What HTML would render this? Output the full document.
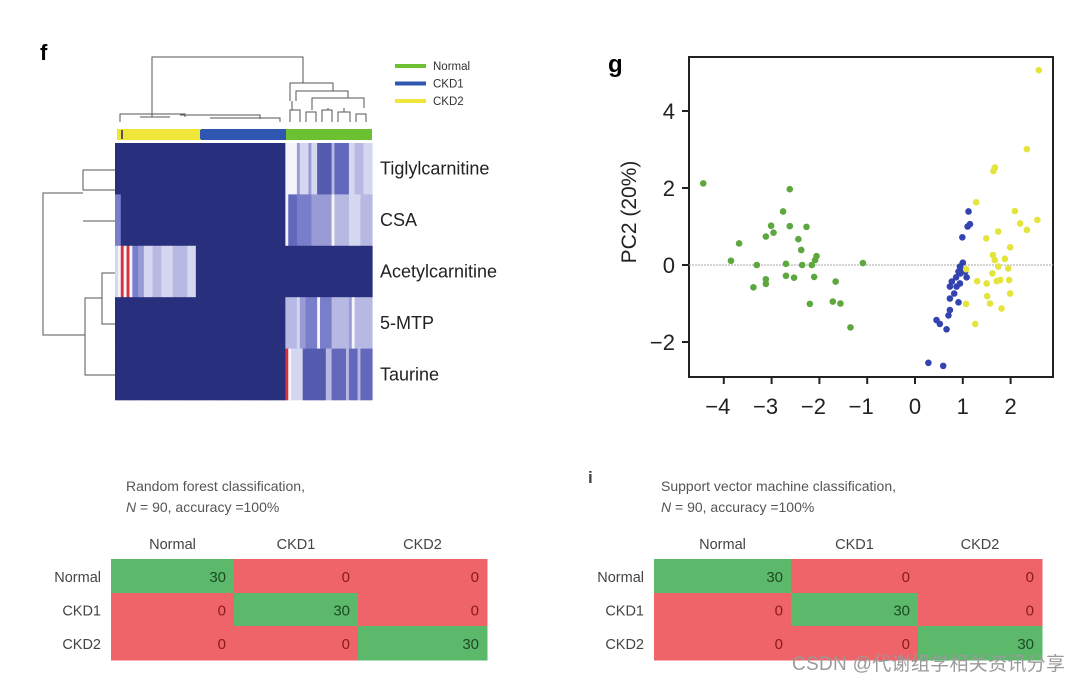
<!DOCTYPE html>
<html><head><meta charset="utf-8">
<style>
html,body{margin:0;padding:0;background:#fff;}
body{width:1080px;height:683px;overflow:hidden;position:relative;font-family:"Liberation Sans","Noto Sans CJK SC",sans-serif;}
svg{position:absolute;left:0;top:0;}
</style></head>
<body>
<svg id="fig" width="1080" height="683" viewBox="0 0 1080 683" xmlns="http://www.w3.org/2000/svg">
  <g id="heat"></g>
  <g id="scat"></g>
  <g id="tabs"></g>
  <text x="792" y="670" font-size="19" fill="#9a9a9a" textLength="273" font-family="Liberation Sans, Noto Sans CJK SC, sans-serif">CSDN @代谢组学相关资讯分享</text>
</svg>
<script>
// ---------- data: heatmap ----------
const heatRows = ["Tiglylcarnitine","CSA","Acetylcarnitine","5-MTP","Taurine"];
const groupNames = ["Normal","CKD1","CKD2"];
const groupColors = ["#6cc133","#2f56b0","#f0e63a"];
// per-row intensity codes: 29 CKD2 cols, 30 CKD1 cols, 30 Normal cols (0=navy ... 9=white, r=red)
const rowCodes = [
  "00000000000000000000000000000"+"000000000000000000000000000000"+"999968886883333374444488777888",
  "55000000000000000000000000000"+"000000000000000000000000000000"+"944455555666666697777788887777",
  "89r9r95566888777888877777888000"+"0000000000000000000000000000",
  "00000000000000000000000000000"+"000000000000000000000000000000"+"777786655559555577777769777777",
  "00000000000000000000000000000"+"000000000000000000000000000000"+"r98888333333337744444744474444"
];
// ---------- data: PCA ----------
const greenX = [-4.43,-2.62,-2.76,-3.01,-2.96,-3.12,-2.62,-2.27,-2.44,-2.38,-3.68,-3.85,-3.31,-2.70,-2.36,-2.16,-2.09,-2.06,-2.70,-2.53,-2.11,-3.12,-3.12,-3.38,-1.66,-2.20,-1.72,-1.56,-1.35,-1.09];
const greenY = [2.12,1.97,1.39,1.02,0.84,0.74,1.01,0.99,0.67,0.39,0.56,0.11,0,0.03,0,0,0.13,0.23,-0.28,-0.33,-0.31,-0.37,-0.49,-0.58,-0.43,-1.01,-0.95,-1.0,-1.62,0.05];
const blueX = [1.12,1.15,1.10,0.99,1.0,0.94,0.91,1.05,1.08,0.86,0.77,0.73,0.87,0.82,0.73,0.91,0.73,0.70,0.45,0.52,0.66,0.28,0.59,1.01,0.94,0.95];
const blueY = [1.39,1.06,1.0,0.72,0.06,-0.04,-0.17,-0.17,-0.32,-0.32,-0.43,-0.56,-0.56,-0.74,-0.87,-0.97,-1.17,-1.31,-1.43,-1.53,-1.67,-2.54,-2.62,-0.13,-0.48,-0.22];
const yellowX = [2.59,2.34,1.67,1.64,1.28,2.09,2.56,2.20,2.34,1.74,1.49,1.99,1.63,1.88,1.67,1.74,1.95,1.07,1.62,1.30,1.71,1.97,1.99,1.51,1.57,1.81,1.07,1.26,1.50,1.78];
const yellowY = [5.06,3.01,2.53,2.44,1.63,1.40,1.17,1.08,0.91,0.87,0.69,0.46,0.26,0.16,0.13,-0.04,-0.09,-0.11,-0.22,-0.42,-0.42,-0.39,-0.74,-0.81,-1.0,-1.13,-1.01,-1.53,-0.48,-0.39];
const xTicks = [-4,-3,-2,-1,0,1,2];
const yTicks = [-2,0,2,4];
// ---------- data: confusion matrices ----------
const classes = ["Normal","CKD1","CKD2"];
const rfMatrix = [[30,0,0],[0,30,0],[0,0,30]];
const svmMatrix = [[30,0,0],[0,30,0],[0,0,30]];

const NS="http://www.w3.org/2000/svg";
function mk(tag, attrs, parent, text){
  const e=document.createElementNS(NS,tag);
  for(const k in attrs) e.setAttribute(k,attrs[k]);
  if(text!==undefined) e.textContent=text;
  parent.appendChild(e); return e;
}
function lerp(a,b,t){return a+(b-a)*t;}
function heatColor(c){
  if(c==='r') return "#d9303a";
  const v=parseInt(c)/9;
  const s0=[40,48,126], s1=[106,111,196], s2=[244,244,251];
  let a,b,t;
  if(v<0.5){a=s0;b=s1;t=v/0.5;} else {a=s1;b=s2;t=(v-0.5)/0.5;}
  return "rgb("+[0,1,2].map(i=>Math.round(lerp(a[i],b[i],t))).join(",")+")";
}

// ---------- heatmap ----------
const H=document.getElementById('heat');
const hx0=115,hx1=372,hy0=143,hy1=400;
const nCols=89, cw=(hx1-hx0)/nCols, rh=(hy1-hy0)/heatRows.length;
mk('text',{x:40,y:60,'font-size':22,'font-weight':'bold'},H,'f');
heatRows.forEach((name,r)=>{
  const code=rowCodes[r];
  for(let c=0;c<nCols;c++){
    const ch=code[c]||'0';
    const rect=mk('rect',{x:(hx0+c*cw).toFixed(2),y:(hy0+r*rh).toFixed(2),width:(cw+0.6).toFixed(2),height:(rh+0.3).toFixed(2),fill:heatColor(ch)},H);
    
    
  }
  const t=mk('text',{x:380,y:hy0+r*rh+rh/2+6,'font-size':18,fill:'#222'},H,name);
  
  
});
// group color bar
const barSeg=[[117,201,2],[201,286,1],[286,372,0]];
barSeg.forEach(s=>{
  const b=mk('rect',{x:s[0],y:129,width:s[1]-s[0],height:11,fill:groupColors[s[2]]},H);
  
  
});
mk('rect',{x:121,y:130,width:2,height:9,fill:'#555'},H);
mk('rect',{x:200,y:130,width:3,height:9,fill:'#2f56b0'},H);
// legend
groupNames.forEach((g,i)=>{
  const y=66+i*17.5;
  const l=mk('line',{x1:395,x2:426,y1:y,y2:y,stroke:groupColors[i],'stroke-width':4},H);
  
  
  const t=mk('text',{x:433,y:y+4,'font-size':11.5,fill:'#333'},H,g);
  
  
});
// dendrograms (decorative)
const dg=mk('g',{stroke:'#555','stroke-width':1,fill:'none'},H);


const dpaths=[
 "M152,117 V57 H303 V83",
 "M290,101 V83 H333 V91",
 "M296,101 V91 H348 V98",
 "M312,110 V98 H364 V108",
 "M120,122 V114 H185 V117",
 "M140,117 H170 M180,115 H260 V119 M210,118 H280 V122",
 "M290,122 V110 H300 V122 M306,122 V112 H316 V122 M322,122 V110 H332 V122 M338,122 V112 H350 V122 M356,122 V114 H366 V122",
 "M292,101 V110 M328,108 V110 M344,108 V112",
 "M115,190 H83 V170 H115 M83,221 H115",
 "M115,273 H102 V324 H115 M102,298 H85 V375 H115",
 "M83,193 H43 V335 H85"
];
dpaths.forEach(d=>mk('path',{d:d},dg));

// ---------- PCA scatter ----------
const S=document.getElementById('scat');
const px0=689,px1=1053,py0=57,py1=377;
const sx=v=>915+v*47.8, sy=v=>265-v*38.5;
mk('text',{x:608,y:72,'font-size':24,'font-weight':'bold'},S,'g');
const box=mk('rect',{x:px0,y:py0,width:px1-px0,height:py1-py0,fill:'none',stroke:'#222','stroke-width':2},S);


const zl=mk('line',{x1:px0,x2:px1,y1:sy(0),y2:sy(0),stroke:'#aaa','stroke-width':1,'stroke-dasharray':'2,1'},S);


xTicks.forEach(v=>{
  mk('line',{x1:sx(v),x2:sx(v),y1:py1,y2:py1+7,stroke:'#222','stroke-width':2},S);
  const t=mk('text',{x:sx(v)-(v<0?6:0),y:py1+37,'font-size':22,'text-anchor':'middle',fill:'#222'},S,v<0?'\u2212'+Math.abs(v):String(v));
  
  
});
yTicks.forEach(v=>{
  mk('line',{x1:px0-7,x2:px0,y1:sy(v),y2:sy(v),stroke:'#222','stroke-width':2},S);
  const t=mk('text',{x:px0-14,y:sy(v)+8,'font-size':22,'text-anchor':'end',fill:'#222'},S,v<0?'\u2212'+Math.abs(v):String(v));
  
  
});
const yl=mk('text',{x:0,y:0,'font-size':21,'text-anchor':'middle',fill:'#222',transform:'translate(636,212) rotate(-90)'},S,'PC2 (20%)');


function plotSeries(xs,ys,col,name){
  xs.forEach((x,i)=>{
    const c=mk('circle',{cx:sx(x),cy:sy(ys[i]),r:3.3,fill:col},S);
    
    
  });
}
plotSeries(greenX,greenY,'#5ca83e','normal');
plotSeries(blueX,blueY,'#3343b0','ckd1');
plotSeries(yellowX,yellowY,'#e4e43c','ckd2');

// ---------- confusion matrices ----------
const T=document.getElementById('tabs');
function drawMatrix(m,x0,colEdges,title,label,key){
  const g=mk('g',{},T);
  
  
  if(label){mk('text',{x:588,y:483,'font-size':17,'font-weight':'bold',fill:'#444'},g,label);}
  const t1=mk('text',{x:x0,y:491,'font-size':14,fill:'#555'},g,title);
  
  
  const t2=mk('text',{x:x0,y:512,'font-size':14,fill:'#555'},g);
  mk('tspan',{'font-style':'italic'},t2,'N');
  mk('tspan',{},t2,' = 90, accuracy =100%');
  const rowEdges=[559,593,626,660];
  classes.forEach((c,j)=>{
    const h=mk('text',{x:(colEdges[j]+colEdges[j+1])/2,y:549,'font-size':14.5,'text-anchor':'middle',fill:'#444'},g,c);
    
    
  });
  m.forEach((row,i)=>{
    const rl=mk('text',{x:colEdges[0]-10,y:(rowEdges[i]+rowEdges[i+1])/2+6,'font-size':14.5,'text-anchor':'end',fill:'#444'},g,classes[i]);
    
    
    row.forEach((v,j)=>{
      const good=(i===j);
      const r=mk('rect',{x:colEdges[j],y:rowEdges[i],width:colEdges[j+1]-colEdges[j]+0.5,height:rowEdges[i+1]-rowEdges[i]+0.5,fill:good?'#5cb86a':'#ee6468'},g);
      
      
      const tv=mk('text',{x:colEdges[j+1]-8,y:(rowEdges[i]+rowEdges[i+1])/2+6,'font-size':15,'text-anchor':'end',fill:good?'#1d4a22':'#8a1a1a'},g,String(v));
      
      
    });
  });
}
drawMatrix(rfMatrix,126,[111,234,358,487],'Random forest classification,',null,'random-forest');
drawMatrix(svmMatrix,661,[654,791,918,1042],'Support vector machine classification,','i','svm');
</script>
</body></html>
